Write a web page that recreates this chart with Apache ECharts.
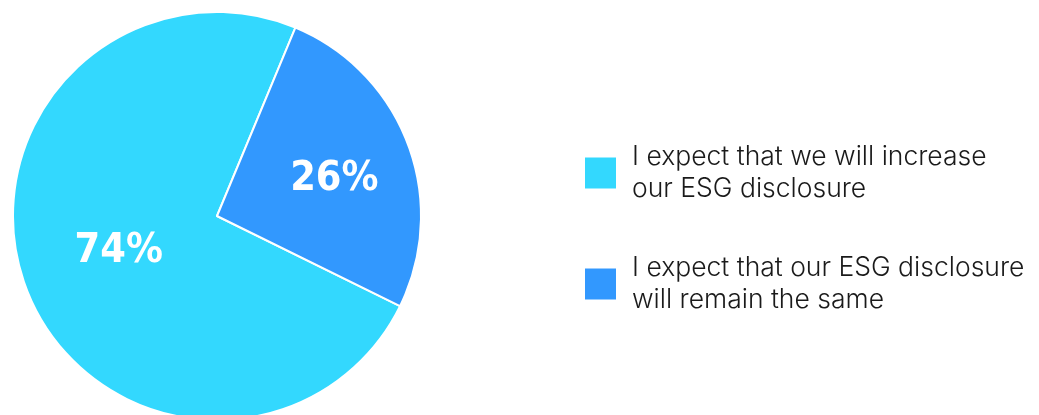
<!DOCTYPE html>
<html>
<head>
<meta charset="utf-8">
<script src="https://cdn.jsdelivr.net/npm/echarts@6/dist/echarts.min.js"></script>
<style>
  html, body { margin: 0; padding: 0; background: #fff; }
  #chart { width: 1039px; height: 415px; }
</style>
</head>
<body>
<div id="chart"></div>
<script>
// Survey answers and their shares (percent)
const categories = [
  'I expect that we will increase\nour ESG disclosure',
  'I expect that our ESG disclosure\nwill remain the same'
];
const shares = [74, 26];
const colors = ['#33D8FE', '#3298FE'];
// extra nudge for the smaller slice's label
const labelOffsets = [[0, -2], [19, 0]];

const chart = echarts.init(document.getElementById('chart'));

chart.setOption({
  animation: false,
  legend: {
    orient: 'vertical',
    left: 583,
    top: 141,
    padding: 0,
    itemWidth: 33,
    itemHeight: 33,
    itemGap: 47,
    icon: 'rect',
    data: categories,
    textStyle: {
      fontFamily: 'Inter',
      fontWeight: 300,
      fontSize: 26.5,
      lineHeight: 32,
      color: '#1a1a1a',
      padding: [0, 0, 0, 10]
    }
  },
  series: [{
    type: 'pie',
    center: [217, 216],
    radius: 204,
    startAngle: 333.8,
    clockwise: true,
    itemStyle: { borderColor: '#ffffff', borderWidth: 2 },
    label: {
      position: 'inside',
      formatter: '{c}%',
      color: '#ffffff',
      fontFamily: 'DejaVu Sans Condensed',
      fontWeight: 'bold',
      fontSize: 41
    },
    labelLine: { show: false },
    emphasis: { disabled: true },
    data: categories.map((name, i) => ({
      name: name,
      value: shares[i],
      itemStyle: { color: colors[i] },
      label: { offset: labelOffsets[i] }
    }))
  }]
});
</script>
</body>
</html>
